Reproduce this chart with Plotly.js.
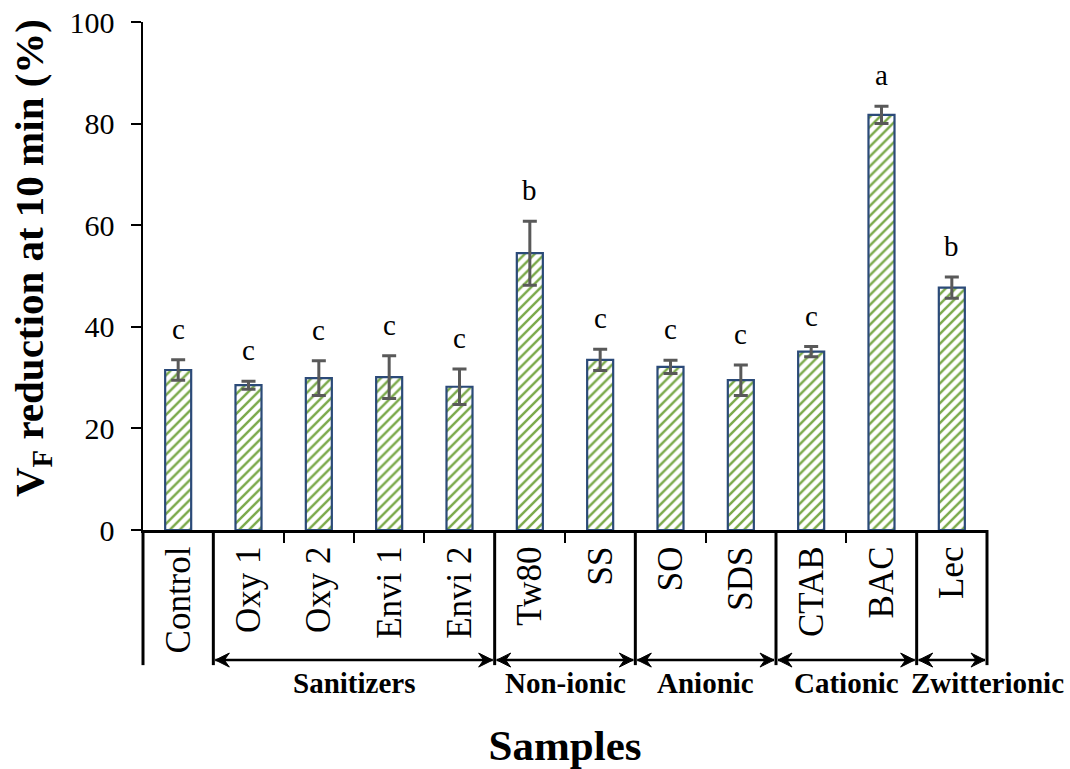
<!DOCTYPE html>
<html>
<head>
<meta charset="utf-8">
<script src="https://cdn.plot.ly/plotly-3.0.1.min.js"></script>
<style>body{margin:0;background:#fff}#chart{width:1070px;height:769px}</style>
</head>
<body>
<div id="chart"></div>
<script>
// ---- data ----
const samples = ["Control","Oxy 1","Oxy 2","Envi 1","Envi 2","Tw80","SS","SO","SDS","CTAB","BAC","Lec"];
const reduction = [31.5, 28.5, 29.9, 30.1, 28.2, 54.5, 33.5, 32.1, 29.5, 35.1, 81.7, 47.7];
const errors = [2.0, 0.8, 3.4, 4.2, 3.5, 6.3, 2.1, 1.3, 3.0, 1.0, 1.7, 2.1];
const letters = ["c","c","c","c","c","b","c","c","c","c","a","b"];
const groupNames = ["Sanitizers","Non-ionic","Anionic","Cationic","Zwitterionic"];
const groupStart = [1, 5, 7, 9, 11];   // index of first sample in group
const groupEnd = [4, 6, 8, 10, 11];    // index of last sample in group
const yTicks = [0, 20, 40, 60, 80, 100];

const serif = "Liberation Serif, Times New Roman, serif";
const W = 1070, H = 769;
const M = {l: 143, r: 83, t: 22, b: 239};
const plotW = W - M.l - M.r, plotH = H - M.t - M.b;
const nCat = samples.length;
const px2x = 1 / plotW, px2y = 1 / plotH;
const catPaper = idx => (idx + 0.5) / nCat;   // category-index -> paper x

const trace = {
  type: "bar",
  x: samples,
  y: reduction,
  width: 0.37,
  marker: {
    color: "#ffffff",
    line: {color: "#2b4a78", width: 2.2},
    pattern: {shape: "/", fgcolor: "#7aa94a", bgcolor: "#ffffff", size: 7, solidity: 0.35}
  },
  error_y: {type: "data", array: errors, visible: true, color: "#595959", thickness: 3, width: 7},
  hoverinfo: "x+y"
};

const annotations = [];
samples.forEach((s, i) => {
  annotations.push({
    x: s, y: reduction[i] + errors[i], xref: "x", yref: "y",
    text: letters[i], showarrow: false, yanchor: "middle", yshift: 31,
    font: {family: serif, size: 29, color: "#000"}
  });
});

const shapes = [];
const lineBottom = -0.266;
const arrowY = -0.256;
const bounds = [-0.5, 0.5];
groupEnd.forEach(e => bounds.push(e + 0.5));
bounds.forEach(b => {
  shapes.push({type: "line", xref: "paper", yref: "paper", x0: catPaper(b), x1: catPaper(b), y0: 0, y1: lineBottom,
    line: {color: "#000", width: 3}});
});

function arrowHead(tipX, dir) {
  // dir = +1 pointing right, -1 pointing left
  const L = 14 * px2x, N = 9 * px2x, h = 7 * px2y;
  const back = tipX - dir * L, notch = tipX - dir * N;
  return {type: "path", xref: "paper", yref: "paper",
    path: `M ${tipX} ${arrowY} L ${back} ${arrowY + h} L ${notch} ${arrowY} L ${back} ${arrowY - h} Z`,
    fillcolor: "#000", line: {color: "#000", width: 1}};
}

groupNames.forEach((g, k) => {
  const a = catPaper(groupStart[k] - 0.5), b = catPaper(groupEnd[k] + 0.5);
  shapes.push({type: "line", xref: "paper", yref: "paper", x0: a + 2 * px2x, x1: b - 2 * px2x, y0: arrowY, y1: arrowY,
    line: {color: "#000", width: 2.5}});
  shapes.push(arrowHead(a + 2 * px2x, -1));
  shapes.push(arrowHead(b - 2 * px2x, 1));
  const isLast = k === groupNames.length - 1;
  annotations.push({
    x: isLast ? b : (a + b) / 2, y: -0.301, xref: "paper", yref: "paper",
    text: "<b>" + g + "</b>", showarrow: false, xanchor: "center", yanchor: "middle",
    font: {family: serif, size: 29, color: "#000"}
  });
});

// y-axis title (drawn as annotation for exact placement)
annotations.push({
  x: (32 - M.l) * px2x, y: (M.t + plotH - 258) * px2y, xref: "paper", yref: "paper",
  text: "<b>V<sub>F</sub> reduction at 10 min (%)</b>", textangle: -90, showarrow: false,
  xanchor: "center", yanchor: "middle",
  font: {family: serif, size: 41, color: "#000"}
});

const layout = {
  width: W, height: H,
  margin: M,
  paper_bgcolor: "#fff", plot_bgcolor: "#fff",
  showlegend: false,
  xaxis: {
    type: "category", automargin: false,
    showline: true, linecolor: "#000", linewidth: 2.5,
    ticks: "outside", tickson: "boundaries", ticklen: 10, tickwidth: 2, tickcolor: "#000",
    tickangle: -90,
    tickfont: {family: serif, size: 35, color: "#000"},
    showgrid: false, zeroline: false,
    title: {text: "<b>Samples</b>", font: {family: serif, size: 43, color: "#000"}, standoff: 90}
  },
  yaxis: {
    range: [0, 100], tickvals: yTicks, automargin: false,
    showline: true, linecolor: "#000", linewidth: 2.5,
    ticks: "outside", ticklen: 10, tickwidth: 2, tickcolor: "#000",
    ticklabelstandoff: 10,
    tickfont: {family: serif, size: 30, color: "#000"},
    showgrid: false, zeroline: false
  },
  shapes: shapes,
  annotations: annotations
};

Plotly.newPlot("chart", [trace], layout, {displayModeBar: false, staticPlot: true});
</script>
</body>
</html>
